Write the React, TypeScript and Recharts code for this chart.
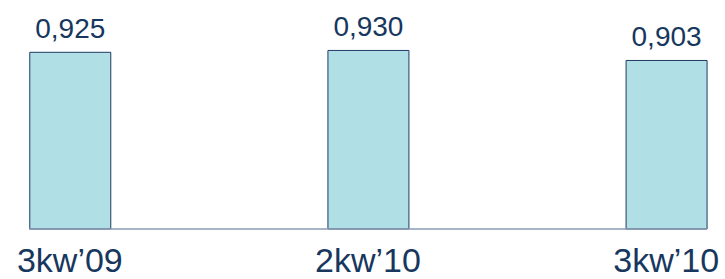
import { BarChart, Bar, XAxis, YAxis, LabelList } from 'recharts';

// quarters and ratios
const categories = ['3kw\u201909', '2kw\u201910', '3kw\u201910'];
const values = [0.925, 0.93, 0.903];

const data = categories.map((name, i) => ({ idx: i, name, value: values[i] }));

const font = '"Liberation Sans", Arial, sans-serif';
const textColor = '#17375E';

const fmt = (v: number) => v.toFixed(3).replace('.', ',');

export default function App() {
    return (
        <div style={{ position: 'absolute', left: 0, top: 0, background: '#fff' }}>
            <BarChart
                width={725}
                height={279}
                data={data}
                margin={{ top: 43, right: 18, bottom: 0, left: 29 }}
            >
                <XAxis
                    type="number"
                    dataKey="idx"
                    domain={[-0.137, 2.137]}
                    ticks={[0, 1, 2]}
                    interval={0}
                    tickFormatter={(v: number) => categories[v]}
                    height={50}
                    tickLine={false}
                    tickSize={0}
                    tickMargin={19}
                    axisLine={{ stroke: '#8A9BB5', strokeWidth: 1.5 }}
                    tick={{ fill: textColor, fontSize: 34, fontFamily: font }}
                />
                <YAxis hide domain={[0.45, 0.95]} />
                <Bar
                    dataKey="value"
                    barSize={81}
                    fill="#B0DFE5"
                    stroke="#1F3B63"
                    strokeWidth={1}
                    isAnimationActive={false}
                >
                    <LabelList
                        dataKey="value"
                        position="top"
                        offset={14}
                        formatter={(v: number) => fmt(v)}
                        fill={textColor}
                        fontSize={28}
                        fontFamily={font}
                    />
                </Bar>
            </BarChart>
        </div>
    );
}
